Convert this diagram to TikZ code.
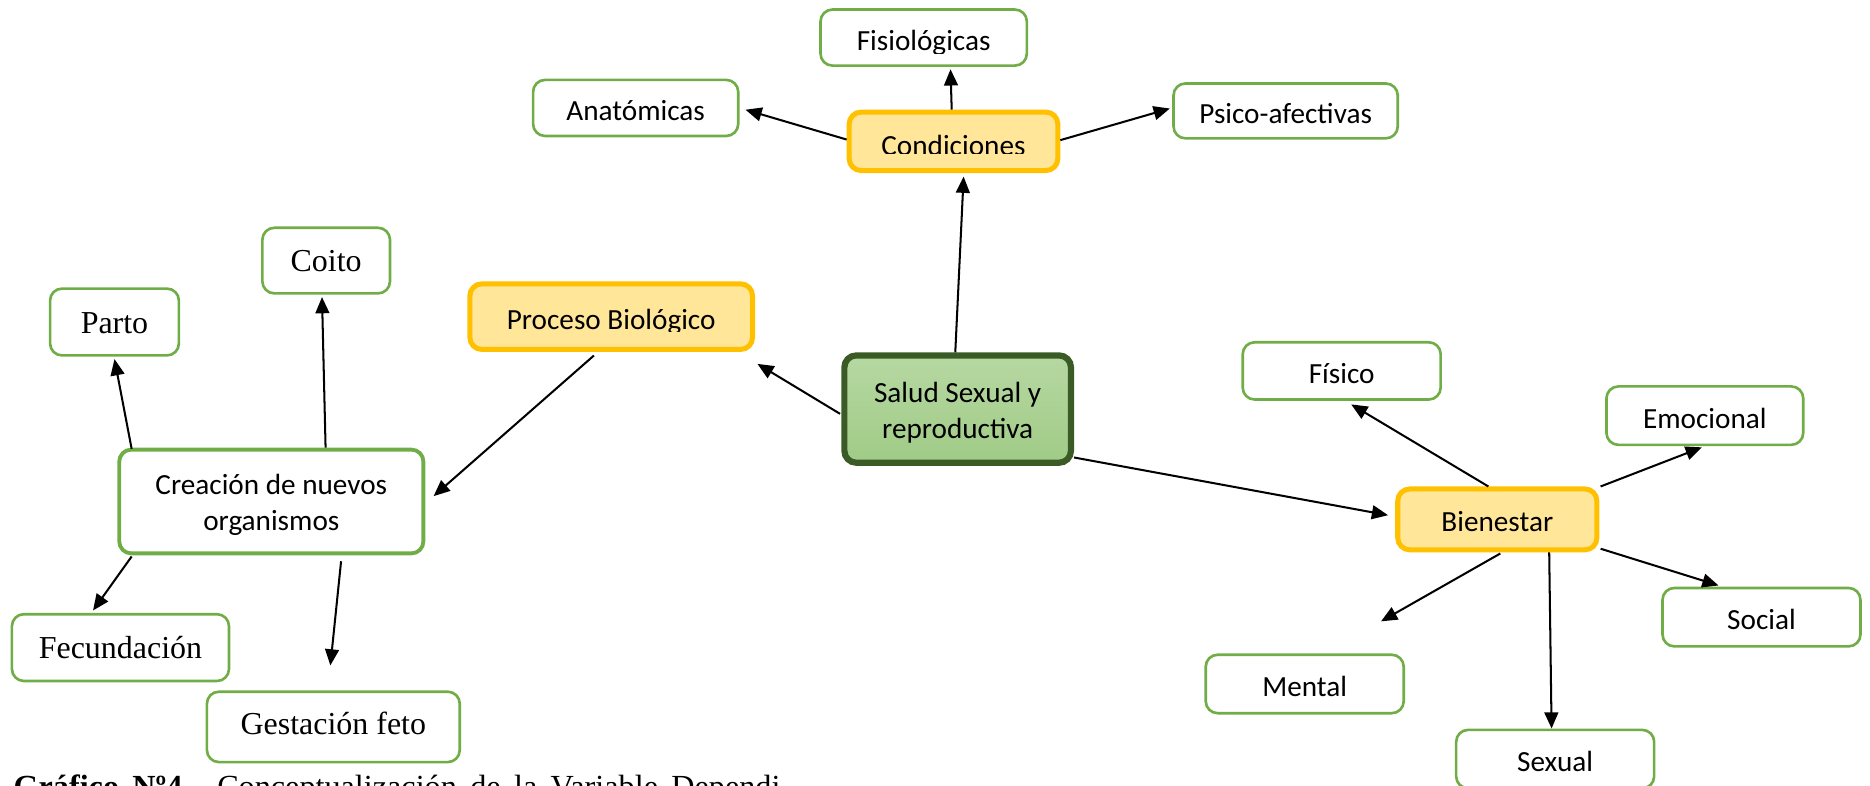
\documentclass[tikz,border=0pt]{standalone}
\usepackage{fontspec}
\setmainfont{Liberation Serif}
\newfontfamily\calibri{Carlito}
\usetikzlibrary{arrows.meta,calc}
\definecolor{leafgreen}{HTML}{70AD47}
\definecolor{hubgold}{HTML}{FFC000}
\definecolor{hubfill}{HTML}{FFE699}
\definecolor{coreedge}{HTML}{3B5B26}
\definecolor{coretop}{HTML}{B6D8A2}
\definecolor{corebot}{HTML}{A0CB86}

\begin{document}
\begin{tikzpicture}[x=0.5pt,y=-0.5pt,
  sz/.style 2 args={minimum width=#1*0.5pt,minimum height=#2*0.5pt},
  sans/.style={font=\calibri\fontsize{12.25}{15}\selectfont},
  serif/.style={font=\fontsize{13.4}{16}\selectfont},
  one/.style={text height=10.5pt,text depth=0pt},
  oneserif/.style={text height=9.5pt,text depth=0pt},
  box/.style={rounded corners=5pt,inner sep=0pt,align=center},
  leaf/.style={box,draw=leafgreen,line width=1.1pt,fill=white},
  hub/.style={box,draw=hubgold,fill=hubfill,line width=2.1pt},
  core/.style={box,draw=coreedge,line width=2.6pt,top color=coretop,bottom color=corebot},
  lbl/.style={inner sep=0pt,anchor=base},
  two/.style={inner sep=0pt,align=center},
  arr/.style={-{Triangle[length=6.8pt,width=5.8pt]},line width=0.85pt},
]
\clip (0,0) rectangle (1568,659);

% central concept
\node[core,sz={190}{90}] (salud) at (803,343) {};
\node[two,sans] (saludlbl) at (803,346) {Salud Sexual y\\reproductiva};

% first-level concepts (text clipped inside the box)
\node[hub,sz={175}{49}] (cond) at (799.5,118.5) {};
\begin{scope}
  \clip (712,94) rectangle (887,128.6);
  \node[lbl,sans] (condlbl) at (799.5,130) {Condiciones};
\end{scope}

\node[hub,sz={237}{55}] (proc) at (512.5,265.5) {};
\begin{scope}
  \clip (394,238) rectangle (631,278);
  \node[lbl,sans] (proclbl) at (512.5,276) {Proceso Biológico};
\end{scope}

\node[hub,sans,one,sz={167}{51}] (bien) at (1255.5,435.5) {Bienestar};

% Condiciones branch
\node[leaf,sz={173}{47}] (fis) at (774.5,31.5) {};
\begin{scope}
  \clip (688,8) rectangle (861,44.5);
  \node[lbl,sans] (fislbl) at (774.5,42.5) {Fisiológicas};
\end{scope}
\node[leaf,sans,one,sz={172}{47}] (ana) at (533,90.5) {Anatómicas};
\node[leaf,sans,one,sz={188}{46}] (psi) at (1078,93) {Psico-afectivas};

% Proceso Biológico branch
\node[leaf,sz={255}{87},line width=1.6pt] (crea) at (227.5,420.5) {};
\node[two,sans] (crealbl) at (227.5,423.5) {Creación de nuevos\\organismos};
\node[leaf,serif,oneserif,sz={107}{55}] (coito) at (273.5,218.5) {Coito};
\node[leaf,serif,oneserif,sz={108}{56}] (parto) at (96,270) {Parto};
\node[leaf,serif,oneserif,sz={182}{56}] (fec) at (101,543) {Fecundación};
\node[leaf,serif,text height=7pt,text depth=1pt,sz={212}{59}] (gest) at (279.5,609.5) {Gestación feto};

% Bienestar branch
\node[leaf,sans,one,sz={166}{48}] (fisico) at (1125,311) {Físico};
\node[leaf,sans,one,sz={165}{49}] (emo) at (1429.5,348.5) {Emocional};
\node[leaf,sans,one,sz={166}{49}] (soc) at (1477,517.5) {Social};
\node[leaf,sans,one,sz={166}{49}] (mental) at (1094,573.5) {Mental};
\node[leaf,sans,one,sz={166}{49}] (sexual) at (1304,636.5) {Sexual};

% loose arrow ends
\coordinate (gestend) at (277,558);
\coordinate (mentend) at (1158,521);

% connectors
\draw[arr] ($(salud.north)+(-2,0)$) -- ($(cond.south)+(8.5,3)$);
\draw[arr] ($(cond.north)+(-1.5,0)$) -- ($(fis.south)+(22.5,2)$);
\draw[arr] ($(cond.west)+(0,-1.5)$) -- ($(ana.east)+(5,1.5)$);
\draw[arr] ($(cond.east)+(0,-1)$) -- ($(psi.west)+(-2,-2)$);
\draw[arr] ($(salud.west)+(-1,4)$) -- ($(proc.south east)+(2,10)$);
\draw[arr] ($(proc.south)+(-14.5,3)$) -- ($(crea.east)+(7,-4.5)$);
\draw[arr] ($(crea.north)+(45.5,0)$) -- ($(coito.south)+(-3.5,2)$);
\draw[arr] ($(crea.north west)+(12,1)$) -- ($(parto.south)+(0,2)$);
\draw[arr] ($(crea.south west)+(12,1)$) -- ($(fec.north)+(-23,-2)$);
\draw[arr] ($(crea.south)+(58.5,5)$) -- (gestend);
\draw[arr] ($(salud.south east)+(0,-7)$) -- ($(bien.west)+(-6,-3.5)$);
\draw[arr] ($(bien.north)+(-7.5,0)$) -- ($(fisico.south)+(8,3)$);
\draw[arr] ($(bien.north east)+(1,0)$) -- ($(emo.south)+(-2.5,1)$);
\draw[arr] ($(bien.south east)+(1,-3)$) -- ($(soc.north)+(-36,-1)$);
\draw[arr] ($(bien.south)+(2.5,1)$) -- (mentend);
\draw[arr] ($(bien.south)+(43.5,0)$) -- ($(sexual.north)+(-3,0)$);

% caption line
\node[inner sep=0pt,anchor=base west,font=\fontsize{13.5}{16}\selectfont] (cap) at (11,669)
  {\makebox[321.5pt][s]{\textbf{Gráfico Nº4.} Conceptualización de la Variable Dependi}};
\end{tikzpicture}
\end{document}
